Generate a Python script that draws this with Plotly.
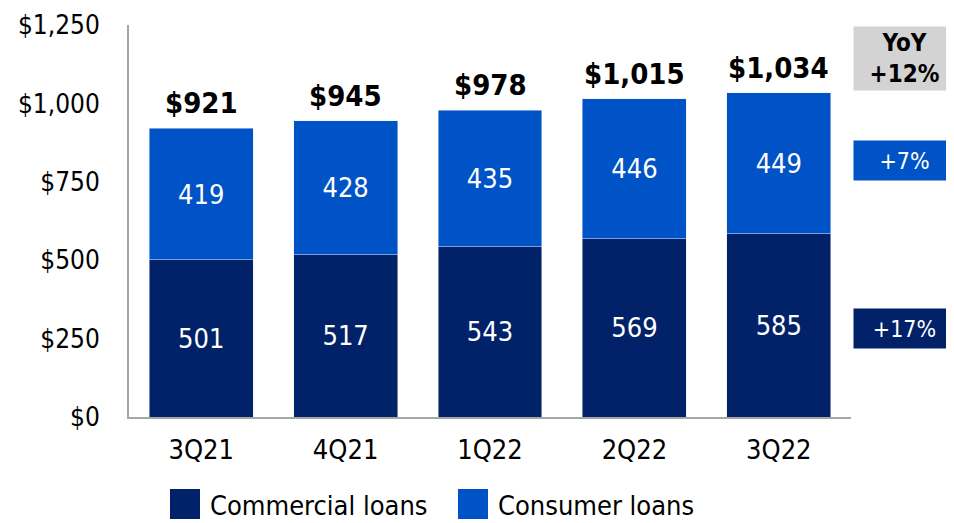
import plotly.graph_objects as go

quarters = ["3Q21", "4Q21", "1Q22", "2Q22", "3Q22"]
commercial = [501, 517, 543, 569, 585]
consumer = [419, 428, 435, 446, 449]
totals = [921, 945, 978, 1015, 1034]
total_labels = ["$921", "$945", "$978", "$1,015", "$1,034"]
tick_vals = [0, 250, 500, 750, 1000, 1250]
tick_text = ["$0", "$250", "$500", "$750", "$1,000", "$1,250"]
yoy_total = "YoY<br>+12%"
yoy_consumer = "+7%"
yoy_commercial = "+17%"
series_names = ["Commercial loans", "Consumer loans"]

NAVY = "#012169"
BLUE = "#0053C6"
FONT = "DejaVu Sans Condensed, Noto Sans"

# page has an 8px body margin; figure coordinates = page coordinates - 8
OFF = 8
W, H = 946, 515
left, top, plot_w, plot_h = 129 - OFF, 25 - OFF, 722, 392

fig = go.Figure()
fig.add_trace(go.Bar(
    x=quarters, y=commercial, name=series_names[0],
    marker_color=NAVY, text=commercial, textposition="inside",
    insidetextanchor="middle", textfont=dict(color="white", size=27, family=FONT),
))
fig.add_trace(go.Bar(
    x=quarters, y=consumer, name=series_names[1],
    marker_color=BLUE, text=consumer, textposition="inside",
    insidetextanchor="middle", textfont=dict(color="white", size=27, family=FONT),
))

for q, t, lab in zip(quarters, totals, total_labels):
    fig.add_annotation(x=q, y=t, text=f"<b>{lab}</b>", showarrow=False,
                       yanchor="bottom", yshift=6,
                       font=dict(size=29, color="black", family=FONT))

def px(x):
    return (x - OFF - left) / plot_w
def py(y):
    return (top + plot_h - (y - OFF)) / plot_h

box_common = dict(xref="paper", yref="paper", x=px(853), xanchor="left",
                  yanchor="middle", showarrow=False, width=101, borderpad=0)
fig.add_annotation(y=py(58.5), text=f"<b>{yoy_total}</b>", bgcolor="#D3D3D3",
                   height=63, font=dict(size=24, color="black", family=FONT),
                   **box_common)
fig.add_annotation(y=py(160.5), text=yoy_consumer, bgcolor=BLUE, height=39,
                   font=dict(size=23, color="white", family=FONT), **box_common)
fig.add_annotation(y=py(328.5), text=yoy_commercial, bgcolor=NAVY, height=39,
                   font=dict(size=23, color="white", family=FONT), **box_common)

# custom legend with large square swatches (paper coordinates)
swatches = [(170, NAVY), (458, BLUE)]
for (sx, col), name in zip(swatches, series_names):
    fig.add_shape(type="rect", xref="paper", yref="paper",
                  x0=px(sx), x1=px(sx + 30), y0=py(519), y1=py(489),
                  fillcolor=col, line_width=0)
    fig.add_annotation(xref="paper", yref="paper", x=px(sx + 38), xanchor="left",
                       y=py(505), yanchor="middle", text=name, showarrow=False,
                       font=dict(size=27, color="black", family=FONT))

fig.update_layout(
    width=W, height=H, barmode="stack", bargap=0.28,
    margin=dict(l=left, r=W - left - plot_w, t=top, b=H - top - plot_h,
                autoexpand=False),
    plot_bgcolor="white", paper_bgcolor="white",
    font=dict(family=FONT, size=27, color="black"),
    showlegend=False,
    uniformtext=dict(minsize=10, mode="show"),
)
fig.update_xaxes(showline=True, linecolor="#A6A6A6", linewidth=2, automargin=False,
                 tickfont=dict(size=27, family=FONT), ticks="", showgrid=False,
                 ticklabelstandoff=8)
fig.update_yaxes(range=[0, 1250], tickvals=tick_vals, ticktext=tick_text,
                 showline=True, linecolor="#A6A6A6", linewidth=2, showgrid=False,
                 zeroline=False, ticks="", ticklabelstandoff=22, automargin=False,
                 ticklabeloverflow="allow",
                 tickfont=dict(size=26, family=FONT))

fig.write_html("out.html")
